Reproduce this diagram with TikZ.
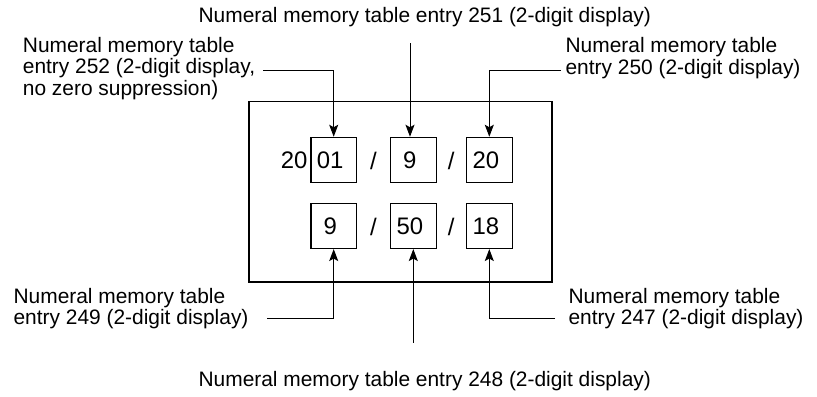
\documentclass[tikz,border=0pt]{standalone}
\usepackage{fontspec}
\setmainfont{Liberation Sans}
\usetikzlibrary{arrows.meta}
\begin{document}
\begin{tikzpicture}[x=1bp,y=-1bp,
  lbl/.style={inner sep=0pt,font=\fontsize{21}{21.3}\selectfont,align=left},
  box/.style={draw,line width=1.1bp,minimum width=45.5bp,minimum height=45bp,inner sep=0pt},
  frame/.style={draw,line width=1.1bp,minimum width=303bp,minimum height=180.3bp,inner sep=0pt},
  num/.style={inner sep=0pt,font=\fontsize{24}{24}\selectfont},
  arr/.style={line width=1bp,-{Stealth[length=12bp,width=9bp,inset=2.5bp]}}]
\useasboundingbox (0,0) rectangle (817,396);
% outer frame
\node[frame] (frm) at (400.5,191.85) {};
% boxes
\node[box] (b1) at (333.7,159.8) {};
\node[box] (b2) at (413.3,159.8) {};
\node[box] (b3) at (489.3,159.8) {};
\node[box] (b4) at (333.7,226) {};
\node[box] (b5) at (413.3,226) {};
\node[box] (b6) at (489.3,226) {};
% digits
\node[num] (n1) at ([xshift=-3.5bp]b1.center) {01};
\node[num] (n2) at ([xshift=-3.5bp]b2.center) {9};
\node[num] (n3) at ([xshift=-3.5bp]b3.center) {20};
\node[num] (n4) at ([xshift=-3.5bp]b4.center) {9};
\node[num] (n5) at ([xshift=-3.5bp]b5.center) {50};
\node[num] (n6) at ([xshift=-3.5bp]b6.center) {18};
\node[num,anchor=east] (pre) at (307.7,160) {20};
\node[num] (s1) at (373.5,160.5) {/};
\node[num] (s2) at (451.3,160.5) {/};
\node[num] (s3) at (373.5,226.5) {/};
\node[num] (s4) at (451.3,226.5) {/};
% labels
\node[lbl,anchor=base west] (t251) at (198.4,22.7) {Numeral memory table entry 251 (2-digit display)};
\node[lbl,anchor=north west] (t252) at (22.7,37.3) {Numeral memory table\\entry 252 (2-digit display,\\no zero suppression)};
\node[lbl,anchor=north west] (t250) at (565.4,37.5) {Numeral memory table\\entry 250 (2-digit display)};
\node[lbl,anchor=north west] (t249) at (13.4,287.7) {Numeral memory table\\entry 249 (2-digit display)};
\node[lbl,anchor=north west] (t247) at (568.4,287.7) {Numeral memory table\\entry 247 (2-digit display)};
\node[lbl,anchor=base west] (t248) at (198.4,386.7) {Numeral memory table entry 248 (2-digit display)};
% leader start points
\coordinate (c252) at (263,70.7);
\coordinate (c251) at (410,43.3);
\coordinate (c250) at (561,70);
\coordinate (c249) at (267,318.3);
\coordinate (c248) at (413.3,342.7);
\coordinate (c247) at (555,318.3);
% connectors
\draw[arr] (c252) -| (b1.north);
\draw[arr] (c251) -- (c251 |- b2.north);
\draw[arr] (c250) -| (b3.north);
\draw[arr] (c249) -| (b4.south);
\draw[arr] (c248) -- (b5.south);
\draw[arr] (c247) -| (b6.south);
\end{tikzpicture}
\end{document}
